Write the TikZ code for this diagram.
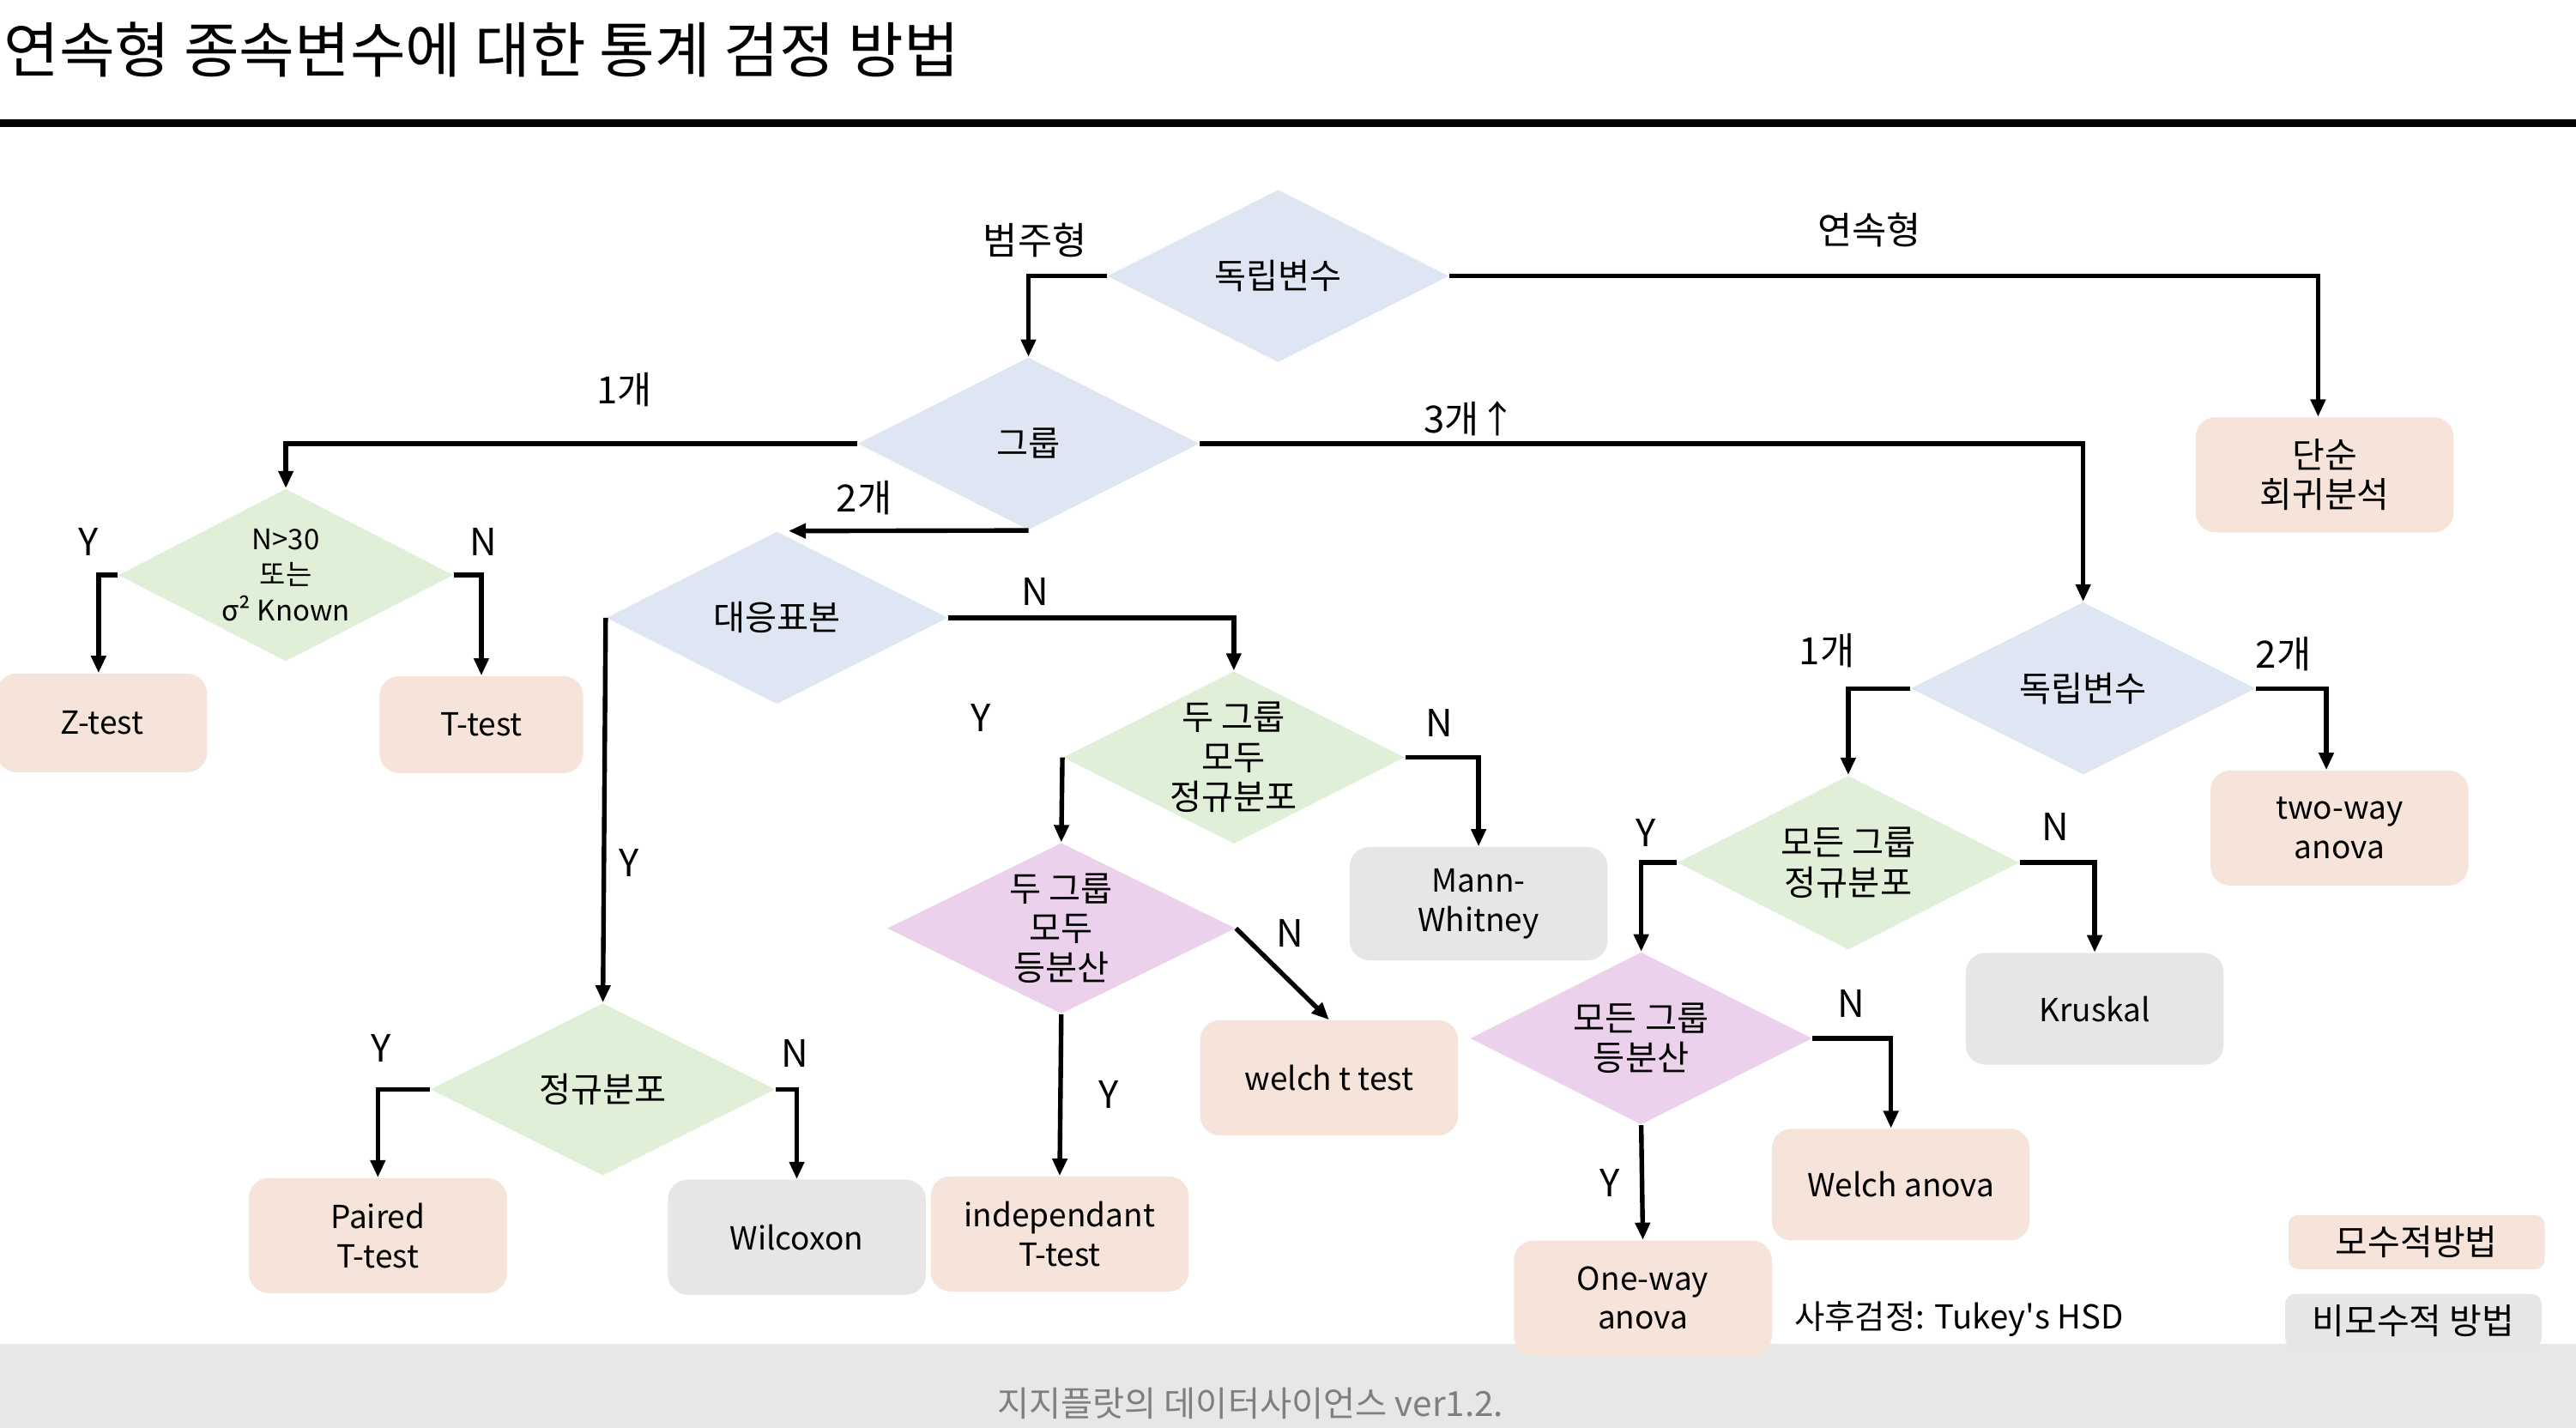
\documentclass[tikz,border=0pt]{standalone}
\usepackage{fontspec}
\setmainfont{Noto Sans CJK KR}
\usetikzlibrary{shapes.geometric,arrows.meta,calc}
\definecolor{cblue}{HTML}{DEE6F3}
\definecolor{cgreen}{HTML}{E0EFD8}
\definecolor{cpurple}{HTML}{EBD1EC}
\definecolor{cpink}{HTML}{F6E3D9}
\definecolor{cgray}{HTML}{E6E6E6}
\definecolor{cfoot}{HTML}{E7E7E7}
\definecolor{cfoottext}{HTML}{7F7F7F}
\tikzset{
  dia/.style={shape=diamond, inner sep=0pt, minimum width=4.16cm, minimum height=2.1cm, draw=none},
  diatext/.style={align=center, font=\fontsize{12}{13.8}\selectfont},
  box/.style={rounded corners=0.24cm, minimum width=3.14cm, minimum height=1.4cm, align=center, inner sep=0pt, font=\fontsize{11}{13.6}\selectfont},
  hbox/.style={font=\fontsize{12.2}{13.6}\selectfont},
  pinkbox/.style={box, fill=cpink},
  graybox/.style={box, fill=cgray},
  lbl/.style={font=\fontsize{13}{15}\selectfont, inner sep=0pt},
  arr/.style={line width=1.6pt, -{Triangle[length=6pt,width=5pt]}}
}
\begin{document}
\begin{tikzpicture}[x=0.02cm,y=-0.02cm]
\clip (0,0) rectangle (1568,869);
\fill[white] (0,0) rectangle (1568,869);
% title
\node[anchor=west, inner sep=0pt, font=\fontsize{20.9}{23}\selectfont] (title) at (2,30) {연속형 종속변수에 대한 통계 검정 방법};
\fill[black] (0,72.5) rectangle (1568,77.5);
% footer
\fill[cfoot] (0,818) rectangle (1568,869);
\node[text=cfoottext, font=\fontsize{12}{14}\selectfont, inner sep=0pt] (foot) at (761,854) {지지플랏의 데이터사이언스 ver1.2.};

% diamonds
\node[dia, fill=cblue, label={[diatext]center:독립변수}] (d1) at (778,168) {};
\node[dia, fill=cblue, label={[diatext]center:그룹}] (d2) at (626,270) {};
\node[dia, fill=cgreen, minimum width=4.08cm, label={[align=center,font=\fontsize{9.8}{12.2}\selectfont]center:N>30\\또는\\σ² Known}] (d3) at (174,350) {};
\node[dia, fill=cblue, label={[diatext]center:대응표본}] (d4) at (473,376) {};
\node[dia, fill=cgreen, label={[diatext]center:두 그룹\\모두\\정규분포}] (d5) at (751,461) {};
\node[dia, fill=cpurple, minimum width=4.24cm, minimum height=2.08cm, label={[diatext]center:두 그룹\\모두\\등분산}] (d6) at (646,565) {};
\node[dia, fill=cgreen, minimum width=4.2cm, label={[diatext]center:정규분포}] (d7) at (367,663) {};
\node[dia, fill=cblue, minimum width=4.2cm, label={[diatext]center:독립변수}] (d8) at (1268,419) {};
\node[dia, fill=cgreen, minimum height=2.12cm, label={[diatext]center:모든 그룹\\정규분포}] (d9) at (1125,525) {};
\node[dia, fill=cpurple, label={[diatext]center:모든 그룹\\등분산}] (d10) at (999,632) {};

% boxes
\node[pinkbox, hbox] (dreg) at (1415,289) {단순\\회귀분석};
\node[pinkbox, minimum width=2.56cm, minimum height=1.2cm] (bz) at (62,440) {Z-test};
\node[pinkbox, minimum width=2.48cm, minimum height=1.18cm] (bt) at (293,441) {T-test};
\node[graybox, minimum height=1.38cm] (bmw) at (900,550) {Mann-\\Whitney};
\node[pinkbox] (bwelt) at (809,656) {welch t test};
\node[pinkbox] (bind) at (645,751) {independant\\T-test};
\node[pinkbox] (bpair) at (230,752) {Paired\\T-test};
\node[graybox] (bwil) at (485,753) {Wilcoxon};
\node[pinkbox] (btwo) at (1424,504) {two-way\\anova};
\node[graybox, minimum height=1.36cm] (bkr) at (1275,614) {Kruskal};
\node[pinkbox, minimum height=1.36cm] (bwa) at (1157,721) {Welch anova};
\node[pinkbox] (bone) at (1000,790) {One-way\\anova};
\node[pinkbox, hbox, minimum width=3.12cm, minimum height=0.66cm, rounded corners=0.12cm] (leg1) at (1471,756) {모수적방법};
\node[graybox, hbox, minimum width=3.12cm, minimum height=0.66cm, rounded corners=0.12cm] (leg2) at (1469,804) {비모수적 방법};
\node[anchor=west, inner sep=0pt, font=\fontsize{11.4}{13}\selectfont] (posthoc) at (1092,803) {사후검정: Tukey\textquotesingle s HSD};

% labels
\node[lbl] (l1) at (630,146) {범주형};
\node[lbl] (l2) at (1138,140) {연속형};
\node[lbl] (l3) at (380,237) {1개};
\node[lbl] (l4) at (895,255) {3개↑};
\node[lbl] (l5) at (526,303) {2개};
\node[lbl] (l6) at (54,330) {Y};
\node[lbl] (l7) at (294,330) {N};
\node[lbl] (l8) at (630,360) {N};
\node[lbl] (l9) at (383,525) {Y};
\node[lbl] (l10) at (597,437) {Y};
\node[lbl] (l11) at (876,440) {N};
\node[lbl] (l12) at (785,568) {N};
\node[lbl] (l13) at (675,666) {Y};
\node[lbl] (l14) at (232,638) {Y};
\node[lbl] (l15) at (484,641) {N};
\node[lbl] (l16) at (1112,396) {1개};
\node[lbl] (l17) at (1390,398) {2개};
\node[lbl] (l18) at (1002,507) {Y};
\node[lbl] (l19) at (1251,503) {N};
\node[lbl] (l20) at (1127,611) {N};
\node[lbl] (l21) at (980,720) {Y};

% connectors
\draw[arr] (d1.west) -| (d2.north);
\draw[arr] (d1.east) -| ([xshift=-0.08cm]dreg.north);
\draw[arr] (d2.west) -| (d3.north);
\draw[arr] (d2.east) -| (d8.north);
\draw[arr] (d2.south) -- ([xshift=0.14cm]d4.north);
\draw[arr] (d3.west) -| ([xshift=-0.04cm]bz.north);
\draw[arr] (d3.east) -| (bt.north);
\draw[arr] (d4.east) -| (d5.north);
\draw[arr] (d4.west) -- (d7.north);
\draw[arr] (d5.west) -- (d6.north);
\draw[arr] (d5.east) -| (bmw.north);
\draw[arr] (d6.east) -- (bwelt.north);
\draw[arr] (d6.south) -- (bind.north);
\draw[arr] (d7.west) -| (bpair.north);
\draw[arr] (d7.east) -| (bwil.north);
\draw[arr] (d8.west) -| (d9.north);
\draw[arr] (d8.east) -| ([xshift=-0.16cm]btwo.north);
\draw[arr] (d9.west) -| (d10.north);
\draw[arr] (d9.east) -| (bkr.north);
\draw[arr] (d10.east) -| ([xshift=-0.12cm]bwa.north);
\draw[arr] (d10.south) -- (bone.north);
\end{tikzpicture}
\end{document}
